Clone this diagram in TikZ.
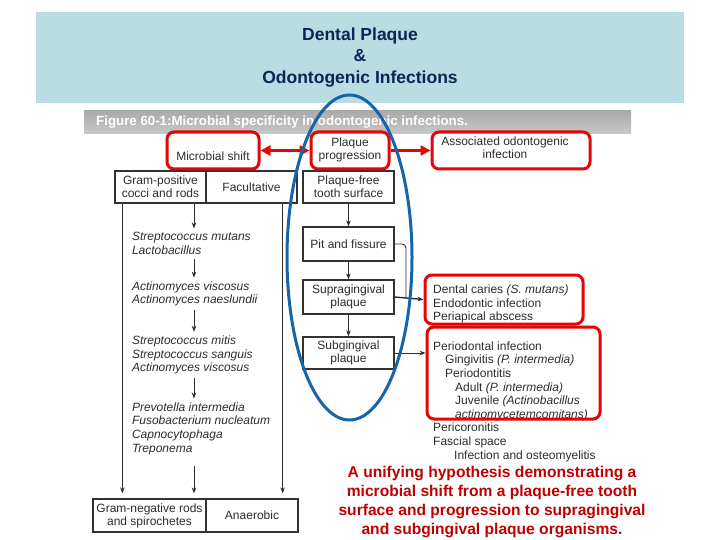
\documentclass[tikz,border=0pt]{standalone}
\usepackage{fontspec}
\setmainfont{Liberation Sans}
\usetikzlibrary{arrows.meta,calc}
\definecolor{hdrfill}{RGB}{185,221,226}
\definecolor{hdrtext}{RGB}{12,36,88}
\definecolor{redbox}{RGB}{226,6,6}
\definecolor{blueell}{RGB}{22,100,170}
\definecolor{captred}{RGB}{192,0,0}
\definecolor{figtext}{RGB}{45,45,45}
\definecolor{boxline}{RGB}{50,50,50}
\definecolor{bartop}{RGB}{170,170,170}
\definecolor{barbot}{RGB}{200,200,200}
\begin{document}
\begin{tikzpicture}[x=1pt,y=-1pt,
  txt/.style={inner sep=0pt, text=figtext, font=\fontsize{12}{13.5}\selectfont},
  sptxt/.style={inner sep=0pt, outer sep=4pt, text=figtext, align=left, anchor=west, font=\fontsize{12}{13.6}\selectfont\itshape},
  graybox/.style={draw=boxline, line width=1.3pt, fill=white, inner sep=0pt, align=center, text=figtext, font=\fontsize{12}{13}\selectfont},
  redrnd/.style={draw=redbox, line width=3pt, rounded corners=7pt, inner sep=0pt},
  arr/.style={-{Stealth[length=6pt,width=4.5pt]}, line width=0.8pt, draw=figtext},
  redarr/.style={-{Triangle[length=10pt,width=10pt]}, line width=3pt, draw=redbox, fill=redbox},
  redarrtwo/.style={{Triangle[length=10pt,width=10pt]}-{Triangle[length=10pt,width=10pt]}, line width=3pt, draw=redbox, fill=redbox}
]
\useasboundingbox (0,0) rectangle (720,540);
\fill[white] (0,0) rectangle (720,540);

% header
\fill[hdrfill] (36,12) rectangle (684,103);
\node[align=center, text=hdrtext, font=\fontsize{17.5}{21.5}\selectfont\bfseries, inner sep=0pt] (hdr) at (360,57.5)
  {Dental Plaque\\\&\\Odontogenic Infections};

% figure title bar
\shade[top color=bartop, bottom color=barbot] (84,111) rectangle (631,134);
\node[anchor=west, inner sep=0pt, text=white, font=\fontsize{13.3}{15}\selectfont\bfseries] (figtitle) at (96,122.5)
  {Figure 60-1:Microbial specificity in odontogenic infections.};

% gray boxes
\node[graybox, minimum width=91pt, minimum height=32pt] (gp) at (160.5,187) {Gram-positive\\cocci and rods};
\node[graybox, minimum width=91pt, minimum height=32pt] (fac) at (251.5,187) {Facultative};
\node[graybox, minimum width=91pt, minimum height=32pt] (pf) at (348.5,187) {Plaque-free\\tooth surface};
\node[graybox, minimum width=91pt, minimum height=34pt] (pit) at (348.5,244) {Pit and fissure};
\node[graybox, minimum width=91pt, minimum height=34pt] (sup) at (348.5,297) {Supragingival\\plaque};
\node[graybox, minimum width=91pt, minimum height=32pt] (sub) at (348.5,353) {Subgingival\\plaque};
\node[graybox, minimum width=113pt, minimum height=33pt] (gn) at (149.5,515.5) {Gram-negative rods\\and spirochetes};
\node[graybox, minimum width=92pt, minimum height=33pt] (ana) at (252,515.5) {Anaerobic};

% species
\coordinate (colx) at (194,0);
\node[sptxt] (sp1) at (128,243.5) {Streptococcus mutans\\Lactobacillus};
\node[sptxt] (sp2) at (128,294) {Actinomyces viscosus\\Actinomyces naeslundii};
\node[sptxt] (sp3) at (128,355) {Streptococcus mitis\\Streptococcus sanguis\\Actinomyces viscosus};
\node[sptxt] (sp4) at (128,428.5) {Prevotella intermedia\\Fusobacterium nucleatum\\Capnocytophaga\\Treponema};

\draw[arr] (gp.south -| colx) -- (sp1.north -| colx);
\draw[arr] (sp1.south -| colx) -- (sp2.north -| colx);
\draw[arr] (sp2.south -| colx) -- (sp3.north -| colx);
\draw[arr] (sp3.south -| colx) -- (sp4.north -| colx);
\draw[arr, shorten <=8pt, shorten >=5pt] (sp4.south -| colx) -- (gn.north -| colx);
\draw[arr, shorten >=5pt] ([xshift=8pt]gp.south west) -- ([xshift=8pt]gp.south west |- gn.north);
\draw[arr, shorten >=5pt] ([xshift=-15pt]fac.south east) -- ([xshift=-15pt]fac.south east |- ana.north);

% middle column arrows
\draw[arr] (pf) -- (pit);
\draw[arr] (pit) -- (sup);
\draw[arr] (sup) -- (sub);

% right column text
\node[txt, align=left, anchor=west, font=\fontsize{12}{13.3}\selectfont] (dctxt) at (433,304)
  {Dental caries \textit{(S. mutans)}\\Endodontic infection\\Periapical abscess};
\node[txt, align=left, anchor=west, font=\fontsize{12}{13.6}\selectfont] (pitxt) at (433,401.5)
  {Periodontal infection\\
   \hspace*{12pt}Gingivitis \textit{(P. intermedia)}\\
   \hspace*{12pt}Periodontitis\\
   \hspace*{22pt}Adult \textit{(P. intermedia)}\\
   \hspace*{22pt}Juvenile \textit{(Actinobacillus}\\
   \hspace*{22pt}\textit{actinomycetemcomitans)}\\
   Pericoronitis\\
   Fascial space\\
   \hspace*{21pt}Infection and osteomyelitis};

% red boxes
\node[redrnd, minimum width=92pt, minimum height=37pt] (ms) at (213,150.5) {};
\node[txt] (mstxt) at (213,156) {Microbial shift};
\node[redrnd, minimum width=78pt, minimum height=37pt] (pp) at (350,150.5) {};
\node[txt, align=center, font=\fontsize{12}{13}\selectfont] (pptxt) at (350,149.5) {Plaque\\progression};
\node[redrnd, minimum width=158pt, minimum height=37pt] (ao) at (511,150.5) {};
\node[txt, align=center, font=\fontsize{12}{13}\selectfont] (aotxt) at (505,147.5) {Associated odontogenic\\infection};
\node[redrnd, minimum width=158pt, minimum height=49pt] (dc) at (504,299.5) {};
\node[redrnd, minimum width=173pt, minimum height=92pt] (pi) at (513.5,373) {};

\draw[redarrtwo] (ms.east) -- (pp.west);
\draw[redarr] (pp.east) -- (ao.west);

% connectors to the right boxes
\coordinate (pj) at (406,0);
\draw[line width=0.9pt, figtext, rounded corners=4pt] (pit.east) -| (pj |- sup.east);
\draw[arr, line width=1.4pt] (sup.east) -- (dc.west);
\draw[arr] (sub.east) -- (sub.east -| pi.west);

% blue ellipse
\draw[blueell, line width=3pt] (349.5,257.5) ellipse [x radius=62.5pt, y radius=162.5pt];

% caption
\node[align=center, text=captred, font=\fontsize{15.6}{19}\selectfont\bfseries, inner sep=0pt] (capt) at (492,501.5)
  {A unifying hypothesis demonstrating a\\microbial shift from a plaque-free tooth\\surface and progression to supragingival\\and subgingival plaque organisms.};
\end{tikzpicture}
\end{document}
